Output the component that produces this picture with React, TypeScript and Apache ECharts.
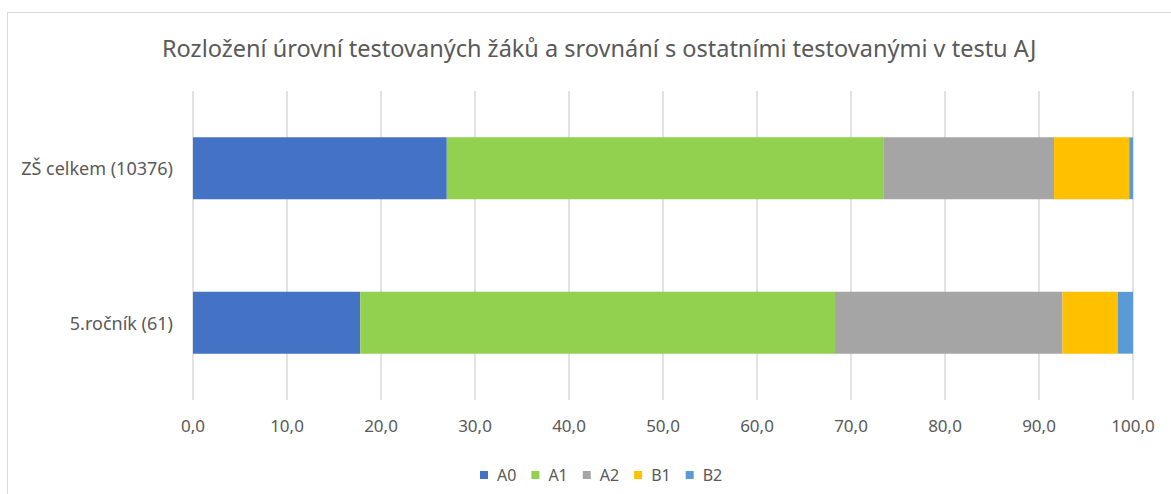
import React, { useEffect, useRef } from "react";
import * as echarts from "echarts";

const categories = ["ZŠ celkem (10376)", "5.ročník (61)"];
const seriesNames = ["A0", "A1", "A2", "B1", "B2"];
const A0 = [27.0, 17.8];
const A1 = [46.5, 50.5];
const A2 = [18.1, 24.2];
const B1 = [8.0, 5.9];
const B2 = [0.4, 1.6];
const seriesValues = [A0, A1, A2, B1, B2];
const colors = ["#4472C4", "#92D050", "#A5A5A5", "#FFC000", "#5B9BD5"];

const FONT = "'Noto Sans', 'Open Sans', sans-serif";

export default function App() {
  const ref = useRef<HTMLDivElement>(null);
  useEffect(() => {
    if (!ref.current) return;
    const chart = echarts.init(ref.current, null, { renderer: "svg" });
    chart.setOption({
      animation: false,
      backgroundColor: "#ffffff",
      title: {
        text: "Rozložení úrovní testovaných žáků a srovnání s ostatními testovanými v testu AJ",
        left: 157,
        top: 31,
        textStyle: { fontFamily: FONT, fontSize: 23.5, fontWeight: "normal", color: "#595959" },
      },
      legend: {
        top: 462,
        left: 475,
        itemWidth: 8,
        itemHeight: 8,
        itemGap: 15,
        icon: "rect",
        textStyle: { fontFamily: FONT, fontSize: 16, color: "#595959", padding: [0, 0, 0, 4] },
        data: seriesNames,
      },
      grid: { left: 193, right: 38, top: 91, bottom: 94, containLabel: false },
      xAxis: {
        type: "value",
        min: 0,
        max: 100,
        interval: 10,
        axisLine: { show: false },
        axisTick: { show: false },
        splitLine: { lineStyle: { color: "#d9d9d9", width: 1.5 } },
        axisLabel: {
          margin: 17,
          fontFamily: FONT,
          fontSize: 17,
          color: "#595959",
          formatter: (v: number) => v.toFixed(1).replace(".", ","),
        },
      },
      yAxis: {
        type: "category",
        inverse: true,
        data: categories,
        axisLine: { show: false },
        axisTick: { show: false },
        axisLabel: { margin: 20, fontFamily: FONT, fontSize: 18, color: "#595959" },
      },
      graphic: [
        {
          type: "rect",
          shape: { x: 7.5, y: 12.5, width: 1200, height: 600 },
          style: { fill: "none", stroke: "#d9d9d9", lineWidth: 1 },
          silent: true,
          z: -10,
        },
      ],
      series: seriesNames.map((name, i) => ({
        name,
        type: "bar",
        stack: "total",
        barWidth: "40%",
        itemStyle: { color: colors[i] },
        data: seriesValues[i],
      })),
    });
    return () => chart.dispose();
  }, []);
  return (
    <div
      ref={ref}
      style={{ position: "fixed", left: 0, top: 0, width: 1171, height: 494 }}
    />
  );
}
